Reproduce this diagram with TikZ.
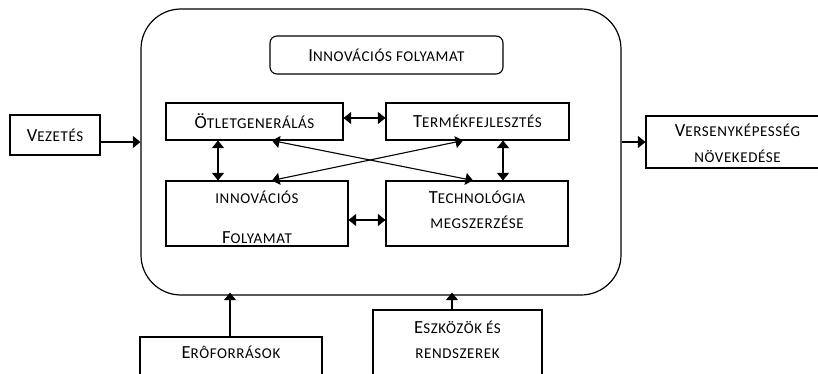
\documentclass[tikz,border=0pt]{standalone}
\usepackage{fontspec}
\setmainfont{Carlito}
\newfontfamily\scfont[LetterSpace=4]{Carlito}
\usetikzlibrary{arrows.meta}
\newcommand\capA[1]{{\scfont\fontsize{18.5}{20}\selectfont #1}}
\newcommand\capB[1]{{\scfont\fontsize{15}{18}\selectfont #1}}
\begin{document}
\begin{tikzpicture}[x=1pt,y=-1pt,
  box/.style={draw,line width=1.1pt,inner sep=0pt,minimum width=#1},
  lbl/.style={inner sep=0pt,anchor=base},
  arr/.style={line width=1.1pt,-{Triangle[length=7.5pt,width=12pt]}},
  darr/.style={line width=1.1pt,{Triangle[length=7.5pt,width=12pt]}-{Triangle[length=7.5pt,width=12pt]}}]
\useasboundingbox (0,0) rectangle (818,374);
\clip (0,0) rectangle (818,374);
% outer process box
\node[box=480pt,minimum height=286pt,rounded corners=40pt,line width=1.2pt] (big) at (381,152) {};
\node[box=233pt,minimum height=38pt,rounded corners=7pt] (title) at (386.5,55) {\capA{I}\capB{NNOVÁCIÓS FOLYAMAT}};
% inner boxes
\node[box=177pt,minimum height=37pt] (otl) at (254.5,121.5) {\capA{Ö}\capB{TLETGENERÁLÁS}};
\node[box=183pt,minimum height=37pt] (term) at (477.5,121.5) {\capA{T}\capB{ERMÉKFEJLESZTÉS}};
\node[box=182pt,minimum height=65pt] (inno) at (257,213.5) {};
\node[box=182pt,minimum height=65pt] (tech) at (477,213.5) {};
\node[lbl] (inno1) at (257,203) {\capB{INNOVÁCIÓS}};
\node[lbl] (inno2) at (257,243) {\capA{F}\capB{OLYAMAT}};
\node[lbl] (tech1) at (477,203) {\capA{T}\capB{ECHNOLÓGIA}};
\node[lbl] (tech2) at (477,228) {\capB{MEGSZERZÉSE}};
% outer boxes
\node[box=90pt,minimum height=40pt] (vez) at (55,135) {\capA{V}\capB{EZETÉS}};
\node[box=184pt,minimum height=52pt] (vers) at (738,142) {};
\node[lbl] (vers1) at (737.5,137) {\capA{V}\capB{ERSENYKÉPESSÉG}};
\node[lbl] (vers2) at (737.5,163) {\capB{NÖVEKEDÉSE}};
\node[box=182pt,minimum height=63pt] (ero) at (231,368.5) {};
\node[lbl] (ero1) at (231,358) {\capA{E}\capB{RÔFORRÁSOK}};
\node[box=169pt,minimum height=90pt] (esz) at (457.5,355) {};
\node[lbl] (esz1) at (457.5,333) {\capA{E}\capB{SZKÖZÖK ÉS}};
\node[lbl] (esz2) at (457.5,358) {\capB{RENDSZEREK}};
% helper coordinates
\coordinate (hin) at (0,142);
\coordinate (htop) at (0,118);
\coordinate (hbot) at (0,220);
\coordinate (vl) at (218,0);
\coordinate (vr) at (503,0);
\coordinate (xa) at (272,0);
\coordinate (xb) at (473,0);
\coordinate (xc) at (463,0);
\coordinate (ea) at (230,0);
\coordinate (eb) at (452,0);
% connectors
\draw[arr] (vez.east |- hin) -- (big.west |- hin);
\draw[arr] (big.east |- hin) -- (vers.west |- hin);
\draw[darr] (otl.east |- htop) -- (term.west |- htop);
\draw[darr] (inno.east |- hbot) -- (tech.west |- hbot);
\draw[darr] (otl.south -| vl) -- (inno.north -| vl);
\draw[darr] (term.south -| vr) -- (tech.north -| vr);
\draw[darr] (otl.south -| xa) -- (tech.north -| xb);
\draw[darr] (term.south -| xc) -- (inno.north -| xa);
\draw[arr] (ero.north -| ea) -- ([yshift=3pt]big.south -| ea);
\draw[arr] (esz.north -| eb) -- ([yshift=3pt]big.south -| eb);
\end{tikzpicture}
\end{document}
